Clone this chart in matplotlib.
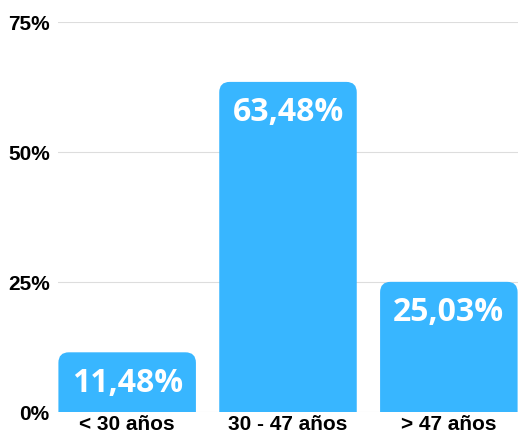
import matplotlib
matplotlib.use("Agg")
import matplotlib.pyplot as plt
from matplotlib.patches import FancyBboxPatch

categories = ["< 30 años", "30 - 47 años", "> 47 años"]
values = [11.48, 63.48, 25.03]
labels = ["11,48%", "63,48%", "25,03%"]
yticks = [0, 25, 50, 75]
ytick_labels = ["0%", "25%", "50%", "75%"]

bar_color = "#38b6ff"

fig = plt.figure(figsize=(5.18, 4.34), dpi=100)
ax = fig.add_axes([58 / 518, 22 / 434, 460 / 518, 390 / 434])

x = range(len(categories))
width = 0.855
bars = ax.bar(x, values, width=width, color=bar_color, alpha=0)

ax.set_xlim(-0.43, 2.43)
ax.set_ylim(0, 75)

# rounded top corners (bottom is clipped at the axis)
rx = 0.065
ry = rx * (75 / 390) / (2.86 / 460)
for b in bars:
    p = FancyBboxPatch((b.get_x(), -ry * 2), b.get_width(), b.get_height() + ry * 2,
                       boxstyle=f"round,pad=0,rounding_size={rx}",
                       mutation_aspect=ry / rx, facecolor=bar_color,
                       edgecolor="none", zorder=3)
    ax.add_patch(p)

for xi, v, lab in zip(x, values, labels):
    ax.annotate(lab, (xi, v), xytext=(0, -31), textcoords="offset pixels",
                ha="center", va="center", color="white", fontsize=23,
                fontweight="bold", family="Open Sans", zorder=4)

ax.set_yticks(yticks)
ax.set_yticklabels(ytick_labels)
ax.set_xticks(list(x))
ax.set_xticklabels(categories)
for t in ax.get_xticklabels() + ax.get_yticklabels():
    t.set_fontweight("bold")
    t.set_fontsize(15)
    t.set_family("Liberation Sans")
ax.tick_params(axis="both", length=0)
ax.tick_params(axis="y", pad=6)
ax.tick_params(axis="x", pad=2)

ax.grid(axis="y", color="#dddddd", linewidth=0.8, zorder=0)
ax.set_axisbelow(True)
for s in ax.spines.values():
    s.set_visible(False)

fig.savefig("out.png", dpi=100)
